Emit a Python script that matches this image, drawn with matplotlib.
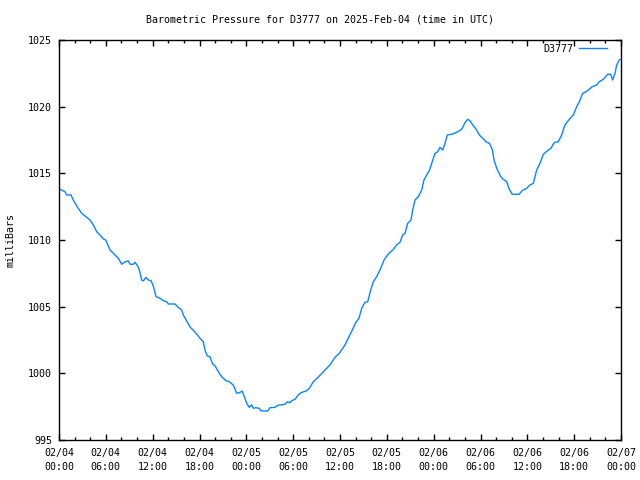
import matplotlib
matplotlib.use("Agg")
import matplotlib.pyplot as plt
from matplotlib.ticker import FixedLocator, MultipleLocator

# hours since 2025-02-04 00:00 UTC
hours = [0, 0.13, 0.77, 0.99, 1.54, 1.83, 2.27, 2.91, 3.33, 3.97, 4.39, 4.83, 5.25, 5.68, 5.98,
         6.53, 6.96, 7.60, 8.03, 8.46, 8.88, 9.10, 9.52, 9.74, 10.08, 10.29, 10.59, 10.80, 11.15,
         11.44, 11.79, 12.08, 12.43, 12.94, 13.36, 13.80, 14.00, 14.86, 15.28, 15.72, 15.92, 16.23,
         16.78, 17.42, 18.06, 18.49, 18.70, 19.00, 19.34, 19.68, 19.98, 20.41, 20.84, 21.39, 21.82,
         22.33, 22.77, 23.10, 23.48, 23.74, 24.05, 24.38, 24.69, 24.89, 25.24, 25.66, 25.88, 26.74,
         27.03, 27.67, 28.02, 28.95, 29.25, 29.59, 29.81, 30.23, 30.66, 31.00, 31.64, 32.07, 32.58,
         32.92, 33.35, 33.99, 34.72, 35.36, 35.91, 36.64, 37.15, 37.58, 38.01, 38.43, 38.78, 39.20,
         39.55, 39.93, 40.27, 40.70, 41.12, 41.64, 42.19, 42.75, 43.26, 43.69, 44.03, 44.33, 44.67,
         45.10, 45.31, 45.61, 46.03, 46.47, 46.76, 47.11, 47.44, 47.75, 48.17, 48.52, 48.81, 49.16,
         49.45, 49.75, 50.31, 50.95, 51.59, 52.01, 52.36, 52.65, 53.00, 53.42, 53.85, 54.28, 54.70,
         55.13, 55.51, 55.73, 56.11, 56.59, 56.92, 57.36, 57.69, 58.07, 58.97, 59.28, 59.92, 60.34,
         60.77, 61.20, 61.62, 62.05, 62.69, 63.03, 63.42, 63.97, 64.40, 64.82, 65.37, 65.89, 66.32,
         66.66, 67.09, 67.51, 67.94, 68.32, 68.88, 69.22, 69.73, 70.29, 70.68, 70.93, 71.23, 71.45,
         71.78, 71.87]
pressure = [1013.9, 1013.8, 1013.62, 1013.38, 1013.38, 1013.0, 1012.55, 1012.0, 1011.8, 1011.5,
            1011.13, 1010.62, 1010.38, 1010.08, 1010.0, 1009.25, 1009.0, 1008.63, 1008.18, 1008.37,
            1008.43, 1008.18, 1008.18, 1008.33, 1008.05, 1007.75, 1007.0, 1006.93, 1007.2, 1007.0,
            1006.95, 1006.55, 1005.75, 1005.63, 1005.45, 1005.37, 1005.2, 1005.2, 1004.95, 1004.75,
            1004.38, 1004.05, 1003.48, 1003.1, 1002.63, 1002.37, 1001.75, 1001.3, 1001.25, 1000.7,
            1000.57, 1000.12, 999.75, 999.45, 999.37, 999.12, 998.5, 998.55, 998.67, 998.25, 997.75,
            997.45, 997.63, 997.38, 997.42, 997.38, 997.18, 997.18, 997.42, 997.45, 997.6, 997.68,
            997.87, 997.8, 997.95, 998.05, 998.38, 998.55, 998.67, 998.88, 999.37, 999.55, 999.8,
            1000.2, 1000.63, 1001.2, 1001.5, 1002.13, 1002.75, 1003.25, 1003.8, 1004.13, 1004.88,
            1005.33, 1005.37, 1006.25, 1006.87, 1007.25, 1007.75, 1008.5, 1008.95, 1009.25, 1009.63,
            1009.83, 1010.38, 1010.5, 1011.25, 1011.5, 1012.25, 1013.0, 1013.25, 1013.75, 1014.5,
            1014.88, 1015.2, 1015.75, 1016.5, 1016.62, 1016.95, 1016.75, 1017.25, 1017.88, 1017.93,
            1018.08, 1018.3, 1018.8, 1019.05, 1018.95, 1018.63, 1018.33, 1017.88, 1017.63, 1017.37,
            1017.25, 1016.8, 1016.0, 1015.33, 1014.75, 1014.55, 1014.37, 1013.8, 1013.43, 1013.43,
            1013.68, 1013.88, 1014.13, 1014.25, 1015.25, 1015.75, 1016.43, 1016.75, 1016.88, 1017.3,
            1017.37, 1017.88, 1018.63, 1019.05, 1019.38, 1020.0, 1020.37, 1021.0, 1021.12, 1021.3,
            1021.5, 1021.63, 1021.87, 1022.05, 1022.43, 1022.43, 1022.0, 1022.5, 1023.13, 1023.5,
            1023.55]

xtick_hours = [0, 6, 12, 18, 24, 30, 36, 42, 48, 54, 60, 66, 72]
xtick_labels = ["02/04\n00:00", "02/04\n06:00", "02/04\n12:00", "02/04\n18:00",
                "02/05\n00:00", "02/05\n06:00", "02/05\n12:00", "02/05\n18:00",
                "02/06\n00:00", "02/06\n06:00", "02/06\n12:00", "02/06\n18:00",
                "02/07\n00:00"]
ytick_values = [995, 1000, 1005, 1010, 1015, 1020, 1025]
series_name = "D3777"
title = "Barometric Pressure for D3777 on 2025-Feb-04 (time in UTC)"

plt.rcParams['font.family'] = ['DejaVu Sans Mono']
FS = 7.2

fig = plt.figure(figsize=(6.4, 4.8), dpi=100)
ax = fig.add_axes([59/640, 40/480, 562/640, 400/480])
ax.plot(hours, pressure, color='#0a84ff', lw=1.0, label=series_name)
ax.set_xlim(0, 72)
ax.set_ylim(995, 1025)
ax.xaxis.set_major_locator(FixedLocator(xtick_hours))
ax.set_xticklabels(xtick_labels, fontsize=FS, linespacing=1.45)
ax.xaxis.set_minor_locator(MultipleLocator(2))
ax.yaxis.set_major_locator(FixedLocator(ytick_values))
ax.set_yticklabels([str(v) for v in ytick_values], fontsize=FS)
ax.tick_params(which='both', direction='in', top=True, right=True, width=1, color='black')
ax.tick_params(which='major', length=4.5)
ax.tick_params(which='minor', length=2.5)
ax.tick_params(axis='x', which='major', pad=6)
ax.tick_params(axis='y', which='major', pad=5)
for s in ax.spines.values():
    s.set_linewidth(1.0)
ax.set_ylabel("milliBars", fontsize=FS, labelpad=9)
fig.text(0.5, 1 - 19/480, title, ha='center', va='center', fontsize=FS)
ax.legend(loc='upper right', bbox_to_anchor=(609/562 - 59/562, 0.995), frameon=False,
          markerfirst=False, handlelength=2.8, handletextpad=0.6, borderpad=0.2,
          borderaxespad=0, fontsize=FS)
fig.savefig("out.png", dpi=100)
